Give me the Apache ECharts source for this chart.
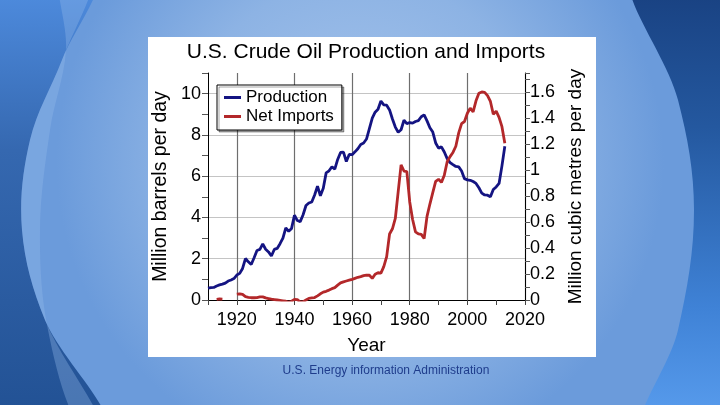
<!DOCTYPE html>
<html>
<head>
<meta charset="utf-8">
<script src="https://cdn.jsdelivr.net/npm/echarts/dist/echarts.min.js"></script>
<style>
  html, body { margin: 0; padding: 0; }
  #chart { width: 720px; height: 405px; }
</style>
</head>
<body>
<div id="chart"></div>
<script>
// years on the x axis
const years = [
  1910, 1911, 1912, 1913, 1914, 1915, 1916, 1917, 1918, 1919,
  1920, 1921, 1922, 1923, 1924, 1925, 1926, 1927, 1928, 1929,
  1930, 1931, 1932, 1933, 1934, 1935, 1936, 1937, 1938, 1939,
  1940, 1941, 1942, 1943, 1944, 1945, 1946, 1947, 1948, 1949,
  1950, 1951, 1952, 1953, 1954, 1955, 1956, 1957, 1958, 1959,
  1960, 1961, 1962, 1963, 1964, 1965, 1966, 1967, 1968, 1969,
  1970, 1971, 1972, 1973, 1974, 1975, 1976, 1977, 1978, 1979,
  1980, 1981, 1982, 1983, 1984, 1985, 1986, 1987, 1988, 1989,
  1990, 1991, 1992, 1993, 1994, 1995, 1996, 1997, 1998, 1999,
  2000, 2001, 2002, 2003, 2004, 2005, 2006, 2007, 2008, 2009,
  2010, 2011, 2012, 2013
]

// million barrels per day
const production = [
  0.57, 0.60, 0.61, 0.68, 0.73, 0.77, 0.82, 0.92, 0.97, 1.04,
  1.21, 1.29, 1.53, 2.01, 1.85, 1.72, 2.05, 2.40, 2.45, 2.72,
  2.46, 2.33, 2.13, 2.45, 2.50, 2.73, 3.00, 3.50, 3.33, 3.47,
  4.11, 3.85, 3.80, 4.13, 4.58, 4.70, 4.75, 5.09, 5.52, 5.05,
  5.41, 6.16, 6.26, 6.46, 6.34, 6.81, 7.15, 7.17, 6.71, 7.05,
  7.04, 7.18, 7.33, 7.54, 7.61, 7.80, 8.30, 8.81, 9.10, 9.24,
  9.64, 9.46, 9.44, 9.21, 8.77, 8.38, 8.13, 8.25, 8.71, 8.55,
  8.60, 8.57, 8.65, 8.69, 8.88, 8.97, 8.68, 8.35, 8.14, 7.61,
  7.36, 7.42, 7.17, 6.85, 6.66, 6.56, 6.47, 6.45, 6.25, 5.88,
  5.82, 5.80, 5.74, 5.65, 5.44, 5.18, 5.09, 5.08, 5.00, 5.35,
  5.48, 5.65, 6.50, 7.45
]

const netImports = [
  null, null, null, 0.03, 0.05, 0.04, null, null, null, null,
  0.28, 0.30, 0.27, 0.16, 0.13, 0.11, 0.11, 0.12, 0.15, 0.15,
  0.10, 0.07, 0.04, 0.02, 0.00, -0.02, -0.04, -0.06, -0.11, -0.06,
  0.03, 0.02, -0.10, -0.08, 0.00, 0.08, 0.10, 0.12, 0.20, 0.30,
  0.38, 0.42, 0.48, 0.55, 0.60, 0.72, 0.83, 0.88, 0.92, 0.96,
  1.00, 1.05, 1.10, 1.13, 1.18, 1.21, 1.20, 1.05, 1.25, 1.32,
  1.30, 1.62, 2.10, 3.20, 3.45, 3.95, 5.25, 6.55, 6.25, 6.22,
  4.75, 3.90, 3.30, 3.20, 3.18, 2.98, 4.05, 4.65, 5.20, 5.75,
  5.85, 5.70, 6.05, 6.70, 6.95, 7.15, 7.45, 8.10, 8.55, 8.65,
  9.05, 9.30, 9.12, 9.65, 10.02, 10.08, 10.06, 9.90, 9.62, 9.00,
  9.15, 8.85, 8.40, 7.60
]

const BBL_TO_M3 = 0.158987 // million bbl -> million m3
const leftMax = 11

const font = 'Liberation Sans, Arial, sans-serif'

const chart = echarts.init(document.getElementById('chart'))

const G = echarts.graphic

chart.setOption({
  animation: false,
  textStyle: { fontFamily: font, color: '#000' },
  title: {
    text: 'U.S. Crude Oil Production and Imports',
    left: 366,
    top: 42,
    textAlign: 'center',
    padding: 0,
    textStyle: { fontSize: 21, fontWeight: 'normal', color: '#000', fontFamily: font }
  },
  graphic: {
    elements: [
      {
        // slide background
        type: 'rect', z: -30, silent: true,
        shape: { x: 0, y: 0, width: 720, height: 405 },
        style: {
          fill: new G.RadialGradient(0.5, 0.4, 0.75, [
            { offset: 0, color: '#a9c6ec' },
            { offset: 0.6, color: '#8db3e4' },
            { offset: 1, color: '#6b9bdb' }
          ])
        }
      },
      {
        type: 'polygon', z: -29, silent: true,
        shape: {
          smooth: 0.35,
          points: [[-60, -30], [95, -30], [62, 60], [30, 140], [22, 230], [45, 320], [104, 430], [-60, 430]]
        },
        style: {
          fill: new G.LinearGradient(0, 0, 0, 1, [
            { offset: 0, color: '#5595ea' },
            { offset: 0.4, color: '#3568b0' },
            { offset: 1, color: '#1f4e90' }
          ])
        }
      },
      {
        type: 'polygon', z: -28, silent: true,
        shape: {
          smooth: 0.35,
          points: [[60, -30], [95, -30], [62, 60], [30, 140], [22, 230], [45, 320], [104, 430], [80, 430], [48, 330], [40, 230], [50, 130], [66, 50]]
        },
        style: { fill: 'rgba(150,185,235,0.35)' }
      },
      {
        type: 'polygon', z: -29, silent: true,
        shape: {
          smooth: 0.35,
          points: [[632, -30], [780, -30], [780, 440], [642, 440], [678, 330], [694, 210], [678, 100]]
        },
        style: {
          fill: new G.LinearGradient(0, 0, 0, 1, [
            { offset: 0, color: '#153a78' },
            { offset: 0.35, color: '#24589f' },
            { offset: 0.7, color: '#3f82d6' },
            { offset: 1, color: '#62a6f6' }
          ])
        }
      },
      {
        // white panel behind the chart
        type: 'rect', z: -10, silent: true,
        shape: { x: 148, y: 37, width: 448, height: 320 },
        style: { fill: '#fff' }
      },
      {
        type: 'text', z: 5, silent: true,
        x: 386, y: 371,
        style: {
          text: 'U.S. Energy information Administration',
          fill: '#1f3d8c',
          fontSize: 12,
          fontFamily: font,
          align: 'center',
          verticalAlign: 'middle'
        }
      }
    ]
  },
  legend: {
    orient: 'vertical',
    left: 217,
    top: 85,
    padding: [3, 8, 4, 7],
    itemGap: 0,
    itemWidth: 17,
    itemHeight: 3,
    icon: 'rect',
    backgroundColor: '#fff',
    borderColor: '#000',
    borderWidth: 1,
    shadowColor: 'rgba(0,0,0,0.35)',
    shadowOffsetX: 2,
    shadowOffsetY: 2,
    textStyle: { fontSize: 17, color: '#000', fontFamily: font, lineHeight: 19 },
    data: ['Production', 'Net Imports']
  },
  grid: { left: 208, right: 195, top: 73, bottom: 105 },
  xAxis: {
    type: 'value',
    min: 1910,
    max: 2020,
    interval: 10,
    name: 'Year',
    nameLocation: 'middle',
    nameGap: 36,
    nameTextStyle: { fontSize: 19, color: '#000' },
    axisLine: { lineStyle: { color: '#000', width: 1 } },
    axisTick: { length: 5, lineStyle: { color: '#444' } },
    axisLabel: {
      fontSize: 18, color: '#000', margin: 11,
      formatter: v => (v % 20 === 0 ? String(v) : '')
    },
    splitLine: {
      show: true,
      showMinLine: true,
      lineStyle: { color: ['transparent', '#6e6e6e'], width: 1.2 }
    }
  },
  yAxis: [
    {
      type: 'value',
      min: 0,
      max: leftMax,
      interval: 1,
      name: 'Million barrels per day',
      nameLocation: 'middle',
      nameGap: 37,
      nameTextStyle: { fontSize: 19.5, color: '#000' },
      axisLine: { show: true, lineStyle: { color: '#000', width: 1 } },
      axisTick: { show: true, length: 6, lineStyle: { color: '#555' } },
      axisLabel: {
        fontSize: 18, color: '#000', margin: 7,
        formatter: v => (v % 2 === 0 ? String(v) : '')
      },
      splitLine: {
        show: true,
        lineStyle: { color: ['#c4c4c4', 'transparent'], width: 1 }
      }
    },
    {
      type: 'value',
      min: 0,
      max: leftMax * BBL_TO_M3,
      interval: 0.1,
      name: 'Million cubic metres per day',
      nameLocation: 'middle',
      nameGap: 41,
      nameTextStyle: { fontSize: 19, color: '#000' },
      axisLine: { show: true, lineStyle: { color: '#000', width: 1 } },
      axisTick: { show: true, length: 5, lineStyle: { color: '#555' } },
      axisLabel: {
        fontSize: 18, color: '#000', margin: 5,
        formatter: v => {
          const k = Math.round(v * 10)
          if (k % 2 !== 0) return ''
          return k % 10 === 0 ? String(k / 10) : (k / 10).toFixed(1)
        }
      },
      splitLine: { show: false }
    }
  ],
  series: [
    {
      name: 'Production',
      type: 'line',
      symbol: 'none',
      yAxisIndex: 0,
      lineStyle: { color: '#141482', width: 2.8 },
      itemStyle: { color: '#141482' },
      data: years.map((y, i) => [y, production[i]])
    },
    {
      name: 'Net Imports',
      type: 'line',
      symbol: 'none',
      yAxisIndex: 0,
      connectNulls: false,
      lineStyle: { color: '#b3282a', width: 2.8 },
      itemStyle: { color: '#b3282a' },
      data: years.map((y, i) => [y, netImports[i]])
    }
  ]
})
</script>
</body>
</html>
